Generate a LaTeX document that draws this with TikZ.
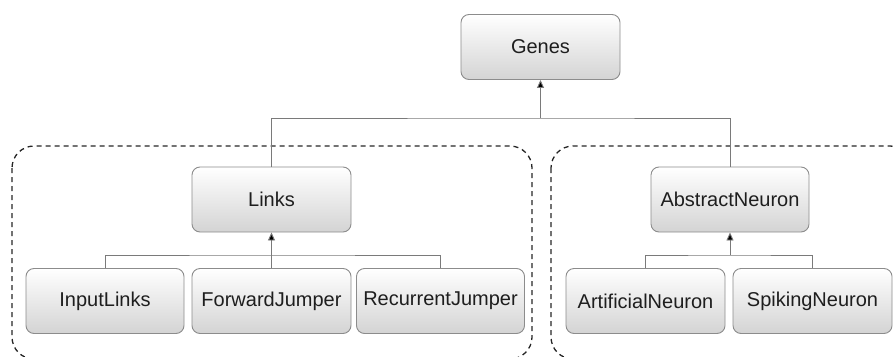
\documentclass[tikz,border=0pt]{standalone}
\usepackage{fontspec}
\setmainfont{Liberation Sans}
\usetikzlibrary{arrows.meta}
\definecolor{boxline}{HTML}{8C8C8C}
\definecolor{conn}{HTML}{7A7A7A}
\definecolor{txt}{HTML}{1E1E1E}
\tikzset{
  cls/.style={draw=boxline, line width=0.9pt, rounded corners=8pt, top color=white, bottom color=black!17,
    minimum height=65pt, inner sep=0pt, text=txt, font=\fontsize{20}{23}\selectfont},
  conline/.style={draw=conn, line width=0.9pt},
  inh/.style={conline, -{Triangle[length=8pt,width=7pt,fill=black]}},
  grp/.style={draw=black!85, line width=1.3pt, dash pattern=on 5pt off 4pt, rounded corners=22pt},
}
\begin{document}
\begin{tikzpicture}[x=1pt,y=-1pt]
\useasboundingbox (0,0) rectangle (896,356);
\begin{scope}
\clip (0,0) rectangle (896,356);
\draw[grp] (12,146) rectangle (532,359);
\draw[grp] (551,146) rectangle (912,359);
\end{scope}
\node[cls, minimum width=159pt] (genes) at (540.5,47) {Genes};
\node[cls, minimum width=159pt] (links) at (271.5,199.5) {Links};
\node[cls, minimum width=158pt] (abs) at (730,199.5) {AbstractNeuron};
\node[cls, minimum width=158pt] (inl) at (105,301) {InputLinks};
\node[cls, minimum width=159pt] (fwd) at (271.5,301) {ForwardJumper};
\node[cls, minimum width=168pt] (rec) at (440.5,301) {RecurrentJumper};
\node[cls, minimum width=159pt] (art) at (645.5,301) {ArtificialNeuron};
\node[cls, minimum width=159pt] (spk) at (812.5,301) {SpikingNeuron};
\coordinate (j0) at (540.5,118);
\coordinate (j1) at (271.5,255);
\coordinate (j2) at (730,255);
\draw[conline] (links.north) |- (j0) -| (abs.north);
\draw[inh] (j0) -- (genes.south);
\draw[conline] (inl.north) |- (j1) -| (rec.north);
\draw[inh] (fwd.north) -- (links.south);
\draw[conline] (art.north) |- (j2) -| (spk.north);
\draw[inh] (j2) -- (abs.south);
\end{tikzpicture}
\end{document}
